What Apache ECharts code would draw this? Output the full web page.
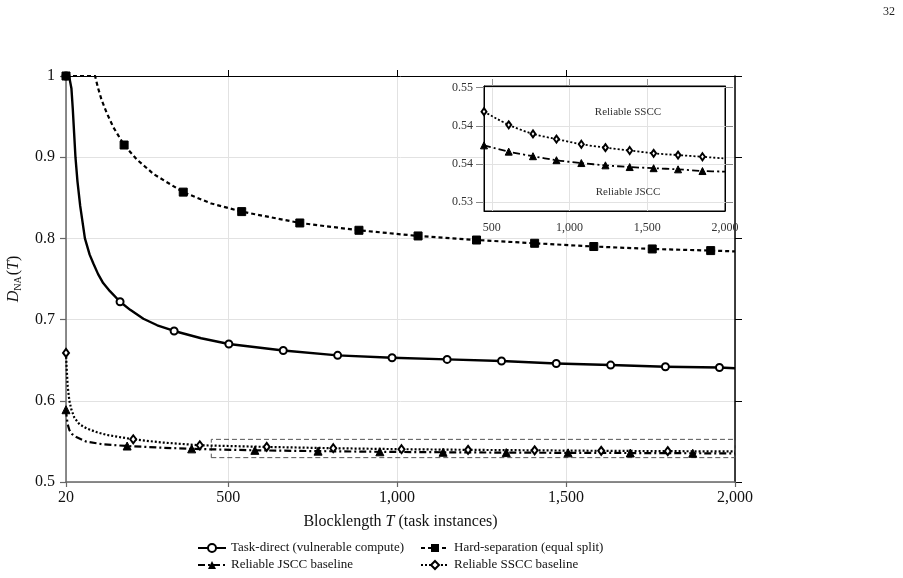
<!DOCTYPE html>
<html>
<head>
<meta charset="utf-8">
<script src="https://cdn.jsdelivr.net/npm/echarts@6/dist/echarts.min.js"></script>
<style>
html,body{margin:0;padding:0;background:#fff;}
#c{width:903px;height:578px;}
</style>
</head>
<body>
<div id="c"></div>
<script>
// ---------- data ----------
const xTicks = [20, 500, 1000, 1500, 2000];
const yTicks = [0.5, 0.6, 0.7, 0.8, 0.9, 1];
const insetXTicks = [500, 1000, 1500, 2000];
const insetYTicks = [0.53, 0.536667, 0.543333, 0.55];

const taskT = [20, 30, 36, 40, 44, 48, 54, 62, 76, 90, 101, 115, 130, 150, 180, 210, 249, 290, 340, 420, 502, 663, 824, 985, 1148, 1309, 1471, 1632, 1794, 1954, 2000];
const taskD = [1.0, 0.998, 0.985, 0.96, 0.93, 0.90, 0.87, 0.84, 0.800, 0.78, 0.769, 0.756, 0.745, 0.735, 0.722, 0.712, 0.701, 0.693, 0.686, 0.677, 0.670, 0.662, 0.656, 0.653, 0.651, 0.649, 0.646, 0.644, 0.642, 0.641, 0.640];
const taskMarks = [20, 180, 340, 502, 663, 824, 985, 1148, 1309, 1471, 1632, 1794, 1954];

const hardT = [20, 60, 106, 115, 125, 140, 160, 192, 230, 280, 367, 450, 540, 712, 887, 1062, 1235, 1407, 1582, 1755, 1928, 2000];
const hardD = [1.0, 1.0, 1.0, 0.985, 0.971, 0.955, 0.937, 0.915, 0.897, 0.879, 0.857, 0.843, 0.833, 0.819, 0.810, 0.803, 0.798, 0.794, 0.790, 0.787, 0.785, 0.784];
const hardMarks = [20, 192, 367, 540, 712, 887, 1062, 1235, 1407, 1582, 1755, 1928];

const jsccT = [20, 22, 25, 30, 38, 52, 81, 130, 201, 300, 392, 579, 766, 949, 1136, 1323, 1506, 1690, 1875, 2000];
const jsccD = [0.589, 0.580, 0.571, 0.564, 0.559, 0.555, 0.5496, 0.5464, 0.5443, 0.5423, 0.5408, 0.539, 0.538, 0.5372, 0.5366, 0.5362, 0.5359, 0.5357, 0.5354, 0.5353];
const jsccMarks = [20, 201, 392, 579, 766, 949, 1136, 1323, 1506, 1690, 1875];

const ssccT = [20, 22, 25, 30, 36, 45, 60, 81, 110, 140, 219, 300, 416, 614, 811, 1013, 1210, 1407, 1604, 1801, 2000];
const ssccD = [0.659, 0.640, 0.618, 0.600, 0.589, 0.579, 0.571, 0.566, 0.5615, 0.558, 0.5526, 0.5488, 0.5452, 0.5432, 0.5416, 0.5404, 0.5396, 0.539, 0.5384, 0.538, 0.5376];
const ssccMarks = [20, 219, 416, 614, 811, 1013, 1210, 1407, 1604, 1801];

const insetT = [450, 609, 765, 916, 1076, 1231, 1387, 1541, 1698, 1855, 2000];
const insetSSCC = [0.5458, 0.5435, 0.5419, 0.541, 0.5401, 0.5395, 0.539, 0.5385, 0.5382, 0.5379, 0.5376];
const insetJSCC = [0.5399, 0.5388, 0.538, 0.5373, 0.5368, 0.5364, 0.5361, 0.5359, 0.5357, 0.5354, 0.5353];
const insetMarks = [450, 609, 765, 916, 1076, 1231, 1387, 1541, 1698, 1855];

const zoomBox = { x: [450, 2000], y: [0.53, 0.5525] };

const names = {
  task: 'Task-direct (vulnerable compute)',
  hard: 'Hard-separation (equal split)',
  jscc: 'Reliable JSCC baseline',
  sscc: 'Reliable SSCC baseline'
};

// ---------- helpers ----------
const FONT = '"Liberation Serif", "DejaVu Serif", serif';
const pair = (T, D) => T.map((t, i) => [t, D[i]]);
const sizeAt = (marks, s) => { const set = new Set(marks); return v => set.has(v[0]) ? s : 0; };
const fmtComma = v => Number(v).toLocaleString('en-US');

const chart = echarts.init(document.getElementById('c'), null, { renderer: 'canvas' });

const lineBase = (name, T, D, marks, symbol, size, lineType, width, extra) => Object.assign({
  name, type: 'line', xAxisIndex: 0, yAxisIndex: 0,
  data: pair(T, D),
  smooth: false,
  symbol, symbolSize: sizeAt(marks, size), showSymbol: true, showAllSymbol: true,
  lineStyle: { color: '#000', width, type: lineType, join: 'round' },
  itemStyle: { color: '#000', borderColor: '#000' },
  emphasis: { disabled: true },
  animation: false, z: 3
}, extra || {});

const legendBase = {
  orient: 'vertical', top: 541, itemWidth: 28, itemHeight: 10, itemGap: 3, padding: 0,
  selectedMode: false,
  textStyle: { fontSize: 13, fontFamily: FONT, color: '#111', lineHeight: 14 }
};

const option = {
  animation: false,
  backgroundColor: '#fff',
  textStyle: { fontFamily: FONT },
  grid: [
    { left: 66, right: 168, top: 76, bottom: 96, outerBoundsMode: 'none', containLabel: false },
    { left: 484, top: 86, width: 241, height: 125, show: true, backgroundColor: '#fff', borderColor: '#000', borderWidth: 1, z: 10, outerBoundsMode: 'none', containLabel: false }
  ],
  xAxis: [
    {
      gridIndex: 0, type: 'value', min: 20, max: 2000, position: 'bottom',
      name: 'Blocklength {i|T} (task instances)', nameLocation: 'middle', nameGap: 32,
      nameTextStyle: { fontSize: 16, color: '#111', fontFamily: FONT, rich: { i: { fontStyle: 'italic', fontSize: 16, fontFamily: FONT, color: '#111' } } },
      axisLine: { show: true, lineStyle: { color: '#666', width: 1.5 } },
      axisTick: { show: true, customValues: xTicks, length: 5, lineStyle: { color: '#666', width: 1.2 } },
      axisLabel: { customValues: xTicks, formatter: fmtComma, fontSize: 16, margin: 8, color: '#111', fontFamily: FONT },
      splitLine: { show: true, lineStyle: { color: '#e2e2e2', width: 1 } }
    },
    {
      gridIndex: 0, type: 'value', min: 20, max: 2000, position: 'top',
      axisLine: { show: true, lineStyle: { color: '#000', width: 1 } },
      axisTick: { show: true, customValues: [500, 1000, 1500], length: 6, lineStyle: { color: '#000', width: 1 } },
      axisLabel: { show: false }, splitLine: { show: false }
    },
    {
      gridIndex: 1, type: 'value', min: 450, max: 2000, position: 'bottom', z: 11,
      axisLine: { show: true, lineStyle: { color: '#000', width: 1 } },
      axisTick: { show: false, customValues: insetXTicks },
      axisLabel: { customValues: insetXTicks, formatter: fmtComma, fontSize: 12, margin: 11, color: '#333', fontFamily: FONT },
      splitLine: { show: true, lineStyle: { color: '#e2e2e2', width: 1 } }
    },
    {
      gridIndex: 1, type: 'value', min: 450, max: 2000, position: 'top', z: 11,
      axisLine: { show: true, lineStyle: { color: '#000', width: 1 } },
      axisTick: { show: true, customValues: [500, 1000, 1500], length: 7, lineStyle: { color: '#999', width: 1 } },
      axisLabel: { show: false }, splitLine: { show: false }
    }
  ],
  yAxis: [
    {
      gridIndex: 0, type: 'value', min: 0.5, max: 1, position: 'left',
      name: '{i|D}{s|NA}{n|(}{i|T}{n|)}', nameLocation: 'middle', nameGap: 43, nameRotate: 90,
      nameTextStyle: {
        color: '#111', fontFamily: FONT,
        rich: {
          i: { fontStyle: 'italic', fontSize: 16, fontFamily: FONT, color: '#111' },
          n: { fontSize: 16, fontFamily: FONT, color: '#111' },
          s: { fontSize: 10, fontFamily: FONT, color: '#111', padding: [9, 1, 0, 0] }
        }
      },
      axisLine: { show: true, lineStyle: { color: '#666', width: 1.5 } },
      axisTick: { show: true, customValues: yTicks, length: 6, lineStyle: { color: '#666', width: 1.2 } },
      axisLabel: { customValues: yTicks, fontSize: 16, margin: 11, color: '#111', fontFamily: FONT },
      splitLine: { show: true, lineStyle: { color: '#e2e2e2', width: 1 } }
    },
    {
      gridIndex: 0, type: 'value', min: 0.5, max: 1, position: 'right',
      axisLine: { show: true, lineStyle: { color: '#000', width: 1.5 } },
      axisTick: { show: true, customValues: yTicks, length: 7, lineStyle: { color: '#000', width: 1 } },
      axisLabel: { show: false }, splitLine: { show: false }
    },
    {
      gridIndex: 1, type: 'value', min: 0.5284, max: 0.5503, position: 'left', z: 11,
      axisLine: { show: true, lineStyle: { color: '#000', width: 1 } },
      axisTick: { show: true, customValues: insetYTicks, length: 8, lineStyle: { color: '#888', width: 1 } },
      axisLabel: { customValues: insetYTicks, formatter: v => Number(v).toFixed(2), fontSize: 12, margin: 11, color: '#333', fontFamily: FONT },
      splitLine: { show: true, lineStyle: { color: '#e2e2e2', width: 1 } }
    },
    {
      gridIndex: 1, type: 'value', min: 0.5284, max: 0.5503, position: 'right', z: 11,
      axisLine: { show: true, lineStyle: { color: '#000', width: 1 } },
      axisTick: { show: true, customValues: insetYTicks, length: 8, lineStyle: { color: '#888', width: 1 } },
      axisLabel: { show: false }, splitLine: { show: false }
    }
  ],
  legend: [
    Object.assign({}, legendBase, { left: 197, data: [names.task, names.jscc] }),
    Object.assign({}, legendBase, { left: 420, data: [names.hard, names.sscc] })
  ],
  graphic: [
    { type: 'text', right: 8, top: 6, style: { text: '32', fontSize: 12, fontFamily: FONT, fill: '#222' } },
    { type: 'text', x: 628, y: 112, z: 30, style: { text: 'Reliable SSCC', fontSize: 11, fontFamily: FONT, fill: '#333', align: 'center', verticalAlign: 'middle' } },
    { type: 'text', x: 628, y: 192, z: 30, style: { text: 'Reliable JSCC', fontSize: 11, fontFamily: FONT, fill: '#333', align: 'center', verticalAlign: 'middle' } }
  ],
  series: [
    lineBase(names.task, taskT, taskD, taskMarks, 'emptyCircle', 7, 'solid', 2.4, { itemStyle: { color: '#000', borderColor: '#000', borderWidth: 2 } }),
    lineBase(names.hard, hardT, hardD, hardMarks, 'rect', 8, [4, 3], 2.2),
    lineBase(names.jscc, jsccT, jsccD, jsccMarks, 'triangle', 8, [7, 3, 2, 3], 2.2, {
      markArea: {
        silent: true,
        itemStyle: { color: 'rgba(0,0,0,0)', borderColor: '#555', borderWidth: 1, borderType: [5, 3] },
        data: [[{ xAxis: zoomBox.x[0], yAxis: zoomBox.y[0] }, { xAxis: zoomBox.x[1], yAxis: zoomBox.y[1] }]]
      }
    }),
    lineBase(names.sscc, ssccT, ssccD, ssccMarks, 'emptyDiamond', [6, 8], [2, 2], 2.2, { itemStyle: { color: '#000', borderColor: '#000', borderWidth: 1.5 } }),
    // inset
    lineBase('inset SSCC', insetT, insetSSCC, insetMarks, 'emptyDiamond', [5, 7], [2, 2], 1.8, {
      xAxisIndex: 2, yAxisIndex: 2, z: 12, smooth: 0.3,
      itemStyle: { color: '#000', borderColor: '#000', borderWidth: 1.5 }
    }),
    lineBase('inset JSCC', insetT, insetJSCC, insetMarks, 'triangle', 7, [7, 3, 2, 3], 1.8, {
      xAxisIndex: 2, yAxisIndex: 2, z: 12, smooth: 0.3
    })
  ]
};

chart.setOption(option);
</script>
</body>
</html>
